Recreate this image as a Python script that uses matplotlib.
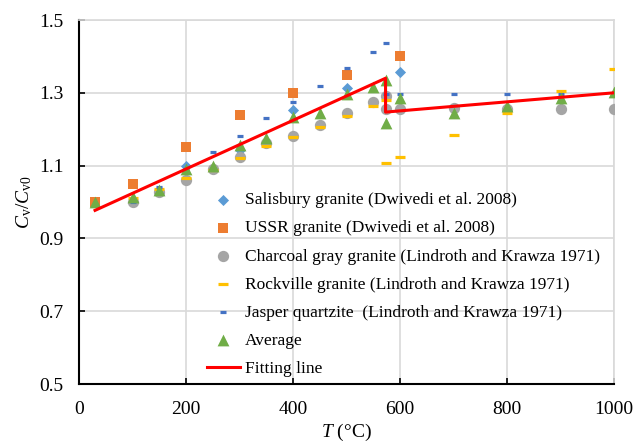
import matplotlib
matplotlib.use('Agg')
import matplotlib.pyplot as plt

plt.rcParams['font.family'] = 'Liberation Serif'
plt.rcParams['mathtext.fontset'] = 'custom'
plt.rcParams['mathtext.rm'] = 'Liberation Serif'
plt.rcParams['mathtext.it'] = 'Liberation Serif:italic'

# Salisbury granite (Dwivedi et al. 2008)
salisbury_T = [100, 200, 300, 400, 500, 600]
salisbury_c = [1.00, 1.10, 1.143, 1.253, 1.314, 1.357]

# USSR granite (Dwivedi et al. 2008)
ussr_T = [30, 100, 200, 300, 400, 500, 600]
ussr_c = [1.00, 1.05, 1.15, 1.24, 1.30, 1.35, 1.40]

# Charcoal gray granite (Lindroth and Krawza 1971)
charcoal_T = [100, 150, 200, 250, 300, 350, 400, 450, 500, 550, 573, 573, 600, 700, 800, 900, 1000]
charcoal_c = [1.00, 1.028, 1.06, 1.092, 1.124, 1.161, 1.181, 1.211, 1.245, 1.276, 1.291, 1.255,
              1.255, 1.257, 1.255, 1.255, 1.255]

# Rockville granite (Lindroth and Krawza 1971)
rockville_T = [100, 150, 200, 250, 300, 350, 400, 450, 500, 550, 573, 573, 600, 700, 800, 900, 1000]
rockville_c = [1.01, 1.035, 1.065, 1.088, 1.12, 1.155, 1.178, 1.205, 1.237, 1.265, 1.280, 1.108,
               1.123, 1.184, 1.244, 1.305, 1.365]

# Jasper quartzite (Lindroth and Krawza 1971)
jasper_T = [100, 150, 200, 250, 300, 350, 400, 450, 500, 550, 573, 573, 600, 700, 800, 900, 1000]
jasper_c = [1.00, 1.042, 1.09, 1.137, 1.182, 1.230, 1.274, 1.320, 1.367, 1.411, 1.436, 1.298,
            1.298, 1.298, 1.298, 1.298, 1.298]

# Average of all data sets
avg_T = [30, 100, 150, 200, 250, 300, 350, 400, 450, 500, 550, 573, 573, 600, 700, 800, 900, 1000]
avg_c = [1.00, 1.015, 1.033, 1.092, 1.10, 1.157, 1.175, 1.233, 1.244, 1.298, 1.315, 1.335, 1.218,
         1.285, 1.244, 1.263, 1.285, 1.303]

# Piecewise fitting line (jump at the alpha-beta transition)
fit_T = [30, 573, 573, 1000]
fit_c = [0.977, 1.340, 1.247, 1.300]

fig = plt.figure(figsize=(6.44, 4.44), dpi=100)
ax = fig.add_axes([79 / 644, 1 - 384 / 444, 535 / 644, 364 / 444])

ax.scatter(salisbury_T, salisbury_c, marker='D', s=32, color='#5B9BD5', linewidths=0,
           label='Salisbury granite (Dwivedi et al. 2008)', zorder=3)
ax.scatter(ussr_T, ussr_c, marker='s', s=58, color='#ED7D31', linewidths=0,
           label='USSR granite (Dwivedi et al. 2008)', zorder=3)
ax.scatter(charcoal_T, charcoal_c, marker='o', s=66, color='#A5A5A5', linewidths=0,
           label='Charcoal gray granite (Lindroth and Krawza 1971)', zorder=3)
ax.scatter(rockville_T, rockville_c, marker='_', s=50, color='#FFC000', linewidths=2.3,
           label='Rockville granite (Lindroth and Krawza 1971)', zorder=4)
ax.scatter(jasper_T, jasper_c, marker='_', s=20, color='#4472C4', linewidths=2.3,
           label='Jasper quartzite  (Lindroth and Krawza 1971)', zorder=4)
ax.scatter(avg_T, avg_c, marker='^', s=72, color='#70AD47', linewidths=0,
           label='Average', zorder=5)
ax.plot(fit_T, fit_c, color='#FF0000', linewidth=2.2, label='Fitting line', zorder=6)

ax.set_xlim(0, 1000)
ax.set_ylim(0.5, 1.5)
ax.set_xticks([0, 200, 400, 600, 800, 1000])
ax.set_yticks([0.5, 0.7, 0.9, 1.1, 1.3, 1.5])
ax.set_yticklabels(['0.5', '0.7', '0.9', '1.1', '1.3', '1.5'])
ax.tick_params(direction='in', length=4, width=1.2, labelsize=14, colors='black')
ax.tick_params(axis='x', pad=12)
ax.tick_params(axis='y', pad=11)

ax.grid(True, color='#D9D9D9', linewidth=1.2)
ax.set_axisbelow(True)
for side in ['top', 'right']:
    ax.spines[side].set_color('#D9D9D9')
    ax.spines[side].set_linewidth(1.2)
for side in ['left', 'bottom']:
    ax.spines[side].set_color('black')
    ax.spines[side].set_linewidth(1.5)

ax.set_xlabel(r'$T$ (°C)', fontsize=14, labelpad=3)
ax.set_ylabel(r'$C_{\mathrm{v}}/C_{\mathrm{v0}}$', fontsize=14, labelpad=4)

ax.legend(loc='upper left', bbox_to_anchor=(0.239, 0.527), frameon=False, fontsize=12.5,
          borderpad=0, borderaxespad=0, handlelength=1.9, handletextpad=0.3,
          labelspacing=0.69, scatterpoints=1)

plt.savefig('out.png', dpi=100)
